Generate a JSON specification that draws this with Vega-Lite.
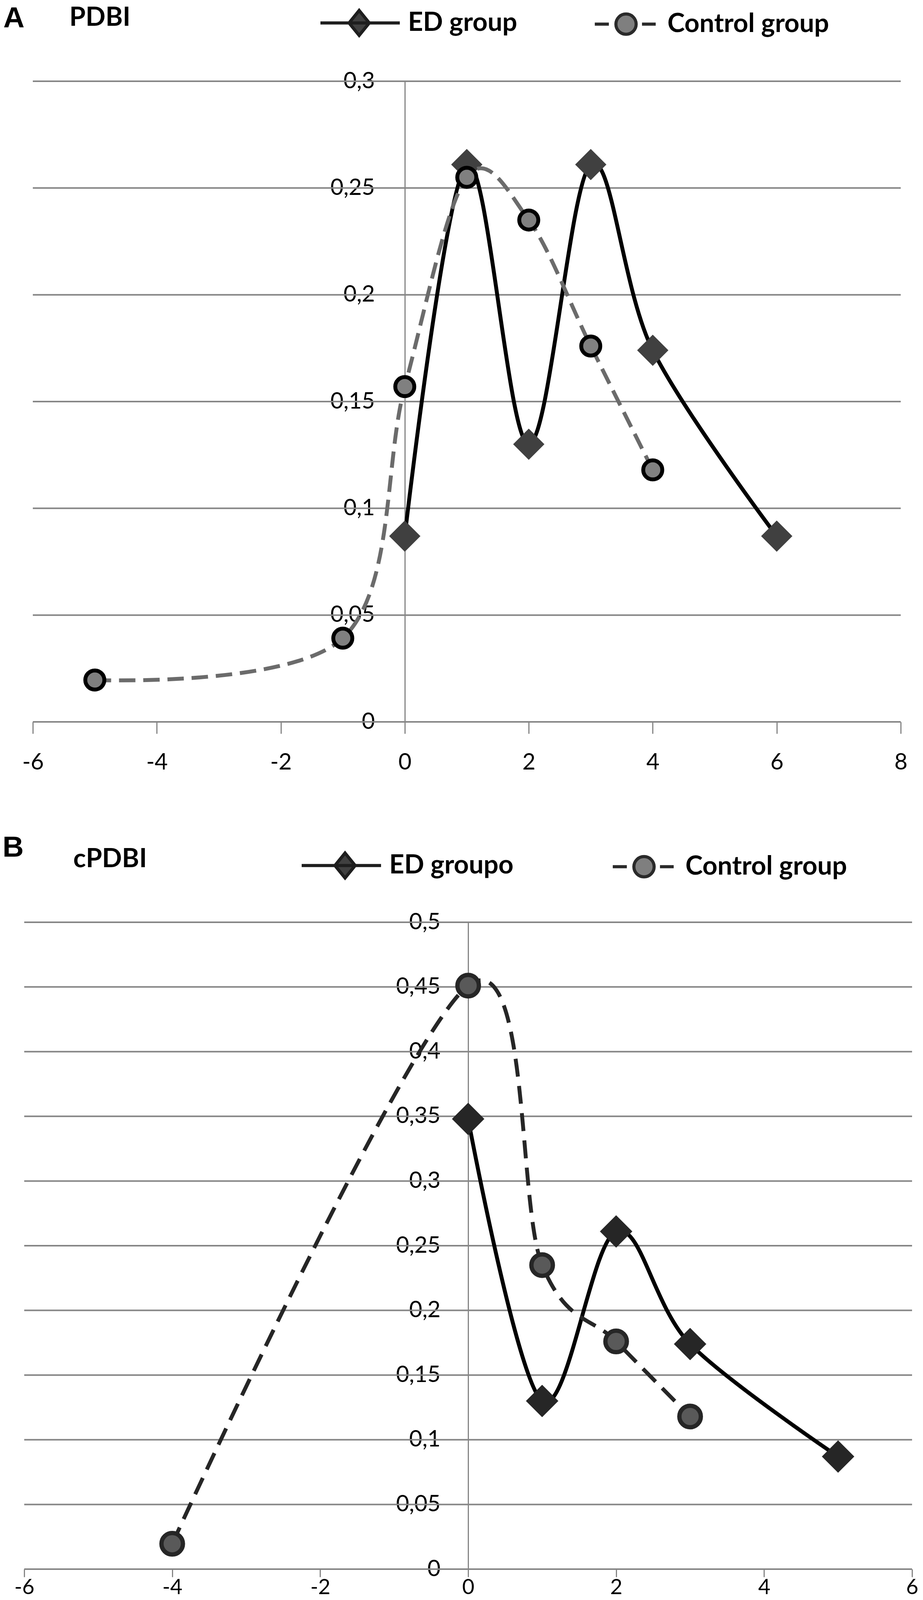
{
  "$schema": "https://vega.github.io/schema/vega-lite/v6.json",
  "width": 2350,
  "height": 4130,
  "padding": 0,
  "autosize": {"type": "none"},
  "config": {"view": {"stroke": null}, "font": "Lato"},
  "resolve": {
    "scale": {"x": "independent", "y": "independent", "shape": "independent", "fill": "independent", "stroke": "independent"},
    "axis": {"x": "independent", "y": "independent"},
    "legend": {"shape": "independent", "fill": "independent", "stroke": "independent"}
  },
  "datasets": {
    "a": [
      {"grp": "ED group", "x": 0, "y": 0.087},
      {"grp": "ED group", "x": 1, "y": 0.261},
      {"grp": "ED group", "x": 2, "y": 0.13},
      {"grp": "ED group", "x": 3, "y": 0.261},
      {"grp": "ED group", "x": 4, "y": 0.174},
      {"grp": "ED group", "x": 6, "y": 0.087},
      {"grp": "Control group", "x": -5, "y": 0.0196},
      {"grp": "Control group", "x": -1, "y": 0.0392},
      {"grp": "Control group", "x": 0, "y": 0.157},
      {"grp": "Control group", "x": 1, "y": 0.255},
      {"grp": "Control group", "x": 2, "y": 0.235},
      {"grp": "Control group", "x": 3, "y": 0.176},
      {"grp": "Control group", "x": 4, "y": 0.118}
    ],
    "b": [
      {"grp": "ED groupo", "x": 0, "y": 0.348},
      {"grp": "ED groupo", "x": 1, "y": 0.13},
      {"grp": "ED groupo", "x": 2, "y": 0.261},
      {"grp": "ED groupo", "x": 3, "y": 0.174},
      {"grp": "ED groupo", "x": 5, "y": 0.087},
      {"grp": "Control group", "x": -4, "y": 0.0196},
      {"grp": "Control group", "x": 0, "y": 0.451},
      {"grp": "Control group", "x": 1, "y": 0.235},
      {"grp": "Control group", "x": 2, "y": 0.176},
      {"grp": "Control group", "x": 3, "y": 0.118}
    ]
  },
  "layer": [
    {
      "data": {"name": "a"},
      "layer": [
        {
          "data": {"values": [{"g": 0}, {"g": 0.05}, {"g": 0.1}, {"g": 0.15}, {"g": 0.2}, {"g": 0.25}, {"g": 0.3}]},
          "mark": {"type": "rule", "color": "#868686", "strokeWidth": 4},
          "encoding": {
            "y": {"field": "g", "type": "quantitative"},
            "x": {"datum": -6, "type": "quantitative"},
            "x2": {"datum": 8}
          }
        },
        {
          "transform": [{"filter": "datum.grp == 'ED group'"}],
          "mark": {"type": "line", "interpolate": "cardinal", "color": "#000000", "strokeWidth": 10, "strokeJoin": "round"},
          "encoding": {
            "x": {
              "field": "x", "type": "quantitative",
              "scale": {"domain": [-6, 8], "range": [84, 2305], "nice": false, "zero": false},
              "axis": {
                "orient": "bottom", "offset": -2282,
                "title": "PDBI", "titleX": 177, "titleY": -1783, "titleAngle": 0, "titleAlign": "left", "titleBaseline": "alphabetic",
                "titleFont": "Lato", "titleFontSize": 67, "titleFontWeight": "bold", "titleColor": "#000000",
                "values": [-6, -4, -2, 0, 2, 4, 6, 8],
                "labelExpr": "datum.value < 0 ? '-' + abs(datum.value) : '' + datum.value",
                "labelFont": "Lato", "labelFontSize": 58, "labelColor": "#000000", "labelPadding": 45,
                "labelFlush": false, "labelOverlap": false,
                "domain": false, "ticks": true, "tickColor": "#868686", "tickWidth": 3, "tickSize": 30, "grid": false
              }
            },
            "y": {
              "field": "y", "type": "quantitative",
              "scale": {"domain": [0, 0.3], "range": [1848, 208], "nice": false, "zero": false},
              "axis": {
                "orient": "left", "offset": -1036,
                "title": "A", "titleX": -1028, "titleY": 69, "titleAngle": 0, "titleAlign": "left", "titleBaseline": "alphabetic",
                "titleFont": "Liberation Sans", "titleFontSize": 75, "titleFontWeight": "bold", "titleColor": "#000000",
                "values": [0, 0.05, 0.1, 0.15, 0.2, 0.25, 0.3],
                "labelExpr": "replace(format(datum.value, '~g'), '.', ',')",
                "labelFont": "Lato", "labelFontSize": 58, "labelColor": "#000000", "labelPadding": 77,
                "labelFlush": false, "labelOverlap": false,
                "ticks": false, "tickSize": 0, "grid": false,
                "domain": true, "domainColor": "#868686", "domainWidth": 3
              }
            }
          }
        },
        {
          "transform": [{"filter": "datum.grp == 'ED group'"}],
          "mark": {"type": "point", "shape": "diamond", "filled": true, "color": "#404040", "opacity": 1, "size": 6400},
          "encoding": {
            "x": {"field": "x", "type": "quantitative"},
            "y": {"field": "y", "type": "quantitative"}
          }
        },
        {
          "transform": [{"filter": "datum.grp == 'Control group'"}],
          "mark": {"type": "line", "interpolate": "cardinal", "color": "#6b6b6b", "strokeWidth": 10, "strokeDash": [42, 20], "strokeCap": "butt"},
          "encoding": {
            "x": {"field": "x", "type": "quantitative"},
            "y": {"field": "y", "type": "quantitative"}
          }
        },
        {
          "transform": [{"filter": "datum.grp == 'Control group'"}],
          "mark": {"type": "point", "shape": "circle", "filled": true, "fill": "#808080", "stroke": "#000000", "strokeWidth": 10, "opacity": 1, "size": 2376},
          "encoding": {
            "x": {"field": "x", "type": "quantitative"},
            "y": {"field": "y", "type": "quantitative"}
          }
        },
        {
          "transform": [{"filter": "false"}],
          "mark": {"type": "point", "filled": true, "opacity": 1, "strokeWidth": 8, "size": 3721},
          "encoding": {
            "shape": {
              "field": "grp", "type": "nominal",
              "scale": {"domain": ["ED group", "Control group"], "range": ["M-1,0H5.66M2.25,-1.05L3.1,0L2.25,1.05L1.4,0Z", "M0.25,0H1.43M4.21,0H5.36M2.02,0A0.85,0.85,0,1,1,3.72,0A0.85,0.85,0,1,1,2.02,0Z"]},
              "legend": {
                "orient": "none", "legendX": 816, "legendY": 24, "direction": "horizontal", "title": null,
                "labelFont": "Lato", "labelFontSize": 67, "labelFontWeight": "bold", "labelColor": "#000000",
                "labelOffset": 159, "labelLimit": 2000, "columnPadding": 156, "symbolSize": 3721, "symbolStrokeWidth": 8,
                "padding": 0, "offset": 0
              }
            },
            "fill": {"field": "grp", "type": "nominal", "scale": {"domain": ["ED group", "Control group"], "range": ["#404040", "#7f7f7f"]}},
            "stroke": {"field": "grp", "type": "nominal", "scale": {"domain": ["ED group", "Control group"], "range": ["#1e1e1e", "#2a2a2a"]}}
          }
        }
      ]
    },
    {
      "data": {"name": "b"},
      "layer": [
        {
          "data": {"values": [{"g": 0}, {"g": 0.05}, {"g": 0.1}, {"g": 0.15}, {"g": 0.2}, {"g": 0.25}, {"g": 0.3}, {"g": 0.35}, {"g": 0.4}, {"g": 0.45}, {"g": 0.5}]},
          "mark": {"type": "rule", "color": "#868686", "strokeWidth": 4},
          "encoding": {
            "y": {"field": "g", "type": "quantitative"},
            "x": {"datum": -6, "type": "quantitative"},
            "x2": {"datum": 6}
          }
        },
        {
          "transform": [{"filter": "datum.grp == 'ED groupo'"}],
          "mark": {"type": "line", "interpolate": "cardinal", "color": "#000000", "strokeWidth": 10, "strokeJoin": "round"},
          "encoding": {
            "x": {
              "field": "x", "type": "quantitative",
              "scale": {"domain": [-6, 6], "range": [62, 2334], "nice": false, "zero": false},
              "axis": {
                "orient": "bottom", "offset": -113,
                "title": "cPDBI", "titleX": 187, "titleY": -1798, "titleAngle": 0, "titleAlign": "left", "titleBaseline": "alphabetic",
                "titleFont": "Lato", "titleFontSize": 67, "titleFontWeight": "bold", "titleColor": "#000000",
                "values": [-6, -4, -2, 0, 2, 4, 6],
                "labelExpr": "datum.value < 0 ? '-' + abs(datum.value) : '' + datum.value",
                "labelFont": "Lato", "labelFontSize": 54, "labelColor": "#000000", "labelPadding": 0,
                "labelFlush": false, "labelOverlap": false,
                "domain": false, "ticks": true, "tickColor": "#868686", "tickWidth": 3, "tickSize": 20, "grid": false
              }
            },
            "y": {
              "field": "y", "type": "quantitative",
              "scale": {"domain": [0, 0.5], "range": [4017, 2361], "nice": false, "zero": false},
              "axis": {
                "orient": "left", "offset": -1198,
                "title": "B", "titleX": -1192, "titleY": 2192, "titleAngle": 0, "titleAlign": "left", "titleBaseline": "alphabetic",
                "titleFont": "Liberation Sans", "titleFontSize": 75, "titleFontWeight": "bold", "titleColor": "#000000",
                "values": [0, 0.05, 0.1, 0.15, 0.2, 0.25, 0.3, 0.35, 0.4, 0.45, 0.5],
                "labelExpr": "replace(format(datum.value, '~g'), '.', ',')",
                "labelFont": "Lato", "labelFontSize": 58, "labelColor": "#000000", "labelPadding": 71,
                "labelFlush": false, "labelOverlap": false,
                "ticks": false, "tickSize": 0, "grid": false,
                "domain": true, "domainColor": "#868686", "domainWidth": 3
              }
            }
          }
        },
        {
          "transform": [{"filter": "datum.grp == 'ED groupo'"}],
          "mark": {"type": "point", "shape": "diamond", "filled": true, "color": "#262626", "opacity": 1, "size": 6889},
          "encoding": {
            "x": {"field": "x", "type": "quantitative"},
            "y": {"field": "y", "type": "quantitative"}
          }
        },
        {
          "transform": [{"filter": "datum.grp == 'Control group'"}],
          "mark": {"type": "line", "interpolate": "cardinal", "color": "#262626", "strokeWidth": 10, "strokeDash": [46, 24], "strokeCap": "butt"},
          "encoding": {
            "x": {"field": "x", "type": "quantitative"},
            "y": {"field": "y", "type": "quantitative"}
          }
        },
        {
          "transform": [{"filter": "datum.grp == 'Control group'"}],
          "mark": {"type": "point", "shape": "circle", "filled": true, "fill": "#595959", "stroke": "#262626", "strokeWidth": 11, "opacity": 1, "size": 3019},
          "encoding": {
            "x": {"field": "x", "type": "quantitative"},
            "y": {"field": "y", "type": "quantitative"}
          }
        },
        {
          "transform": [{"filter": "false"}],
          "mark": {"type": "point", "filled": true, "opacity": 1, "strokeWidth": 8, "size": 3721},
          "encoding": {
            "shape": {
              "field": "grp", "type": "nominal",
              "scale": {"domain": ["ED groupo", "Control group"], "range": ["M-1,0H5.66M2.64,-1.05L3.49,0L2.64,1.05L1.79,0Z", "M0.25,0H1.43M4.21,0H5.36M2.02,0A0.85,0.85,0,1,1,3.72,0A0.85,0.85,0,1,1,2.02,0Z"]},
              "legend": {
                "orient": "none", "legendX": 768, "legendY": 2181, "direction": "horizontal", "title": null,
                "labelFont": "Lato", "labelFontSize": 67, "labelFontWeight": "bold", "labelColor": "#000000",
                "labelOffset": 159, "labelLimit": 2000, "columnPadding": 212, "symbolSize": 3721, "symbolStrokeWidth": 8,
                "padding": 0, "offset": 0
              }
            },
            "fill": {"field": "grp", "type": "nominal", "scale": {"domain": ["ED groupo", "Control group"], "range": ["#404040", "#7f7f7f"]}},
            "stroke": {"field": "grp", "type": "nominal", "scale": {"domain": ["ED groupo", "Control group"], "range": ["#1e1e1e", "#2a2a2a"]}}
          }
        }
      ]
    }
  ]
}
